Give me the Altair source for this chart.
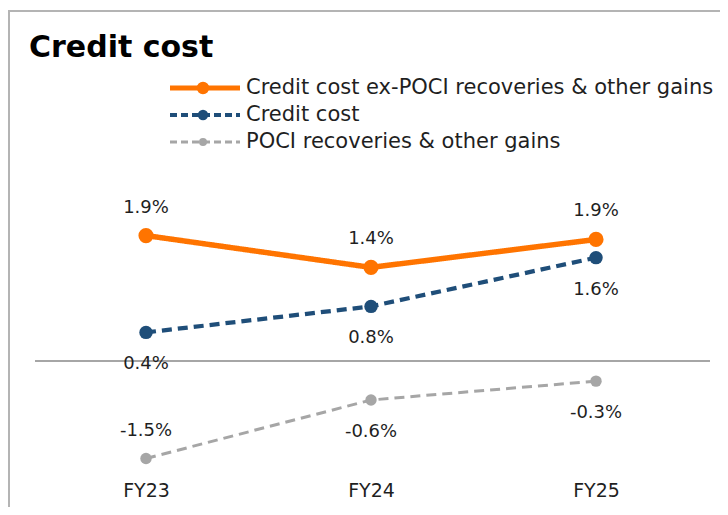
import altair as alt
import pandas as pd

# ---- data ----
title = "Credit cost"
categories = ["FY23", "FY24", "FY25"]
series_names = [
    "Credit cost ex-POCI recoveries & other gains",
    "Credit cost",
    "POCI recoveries & other gains",
]
ex_poci = [1.93, 1.44, 1.87]
credit_cost = [0.44, 0.84, 1.59]
poci = [-1.50, -0.60, -0.31]
label_pos = [
    ["above", "above", "above"],
    ["below", "below", "below"],
    ["above", "below", "below"],
]
colors = ["#ff7400", "#1f4e79", "#a6a6a6"]

FONT = "DejaVu Sans"
TXT = "#1f1f1f"

rows = []
for s, vals, pos in zip(series_names, [ex_poci, credit_cost, poci], label_pos):
    for c, v, p in zip(categories, vals, pos):
        rows.append({"series": s, "cat": c, "value": v, "pos": p,
                     "label": f"{v:.1f}%"})
df = pd.DataFrame(rows)
legend_df = pd.DataFrame({"series": series_names, "row": [0, 1, 2]})

W, H = 712, 470

xscale = alt.Scale(domain=categories, range=[138, 588], padding=0)
yscale = alt.Scale(domain=[-1.8, 2.2], range=[470, 210])
xaxis = alt.Axis(title=None, domain=False, ticks=False, grid=False, labelAngle=0,
                 labelFont=FONT, labelFontSize=19, labelColor=TXT,
                 labelPadding=3)
xenc = alt.X("cat:N", scale=xscale, axis=xaxis, sort=categories)
yenc = alt.Y("value:Q", scale=yscale, axis=None)
color = alt.Color("series:N", scale=alt.Scale(domain=series_names, range=colors), legend=None)
dash = alt.StrokeDash("series:N", scale=alt.Scale(domain=series_names,
                      range=[[1, 0], [10, 6], [10, 6]]), legend=None)
swidth = alt.StrokeWidth("series:N", scale=alt.Scale(domain=series_names,
                         range=[5.5, 3, 3]), legend=None)

base = alt.Chart(df)

lines = base.mark_line(strokeCap="butt").encode(
    x=xenc, y=yenc, color=color, strokeDash=dash, strokeWidth=swidth,
    detail="series:N")

points = base.mark_point(filled=True, opacity=1, shape="circle").encode(
    x=xenc, y=yenc, color=color,
    size=alt.Size("series:N", scale=alt.Scale(domain=series_names, range=[230, 130, 130]),
                  legend=None))

lab_above = base.transform_filter(alt.datum.pos == "above").mark_text(
    dy=-28, font=FONT, fontSize=18, color=TXT).encode(
    x=xenc, y=yenc, text="label:N")
lab_below = base.transform_filter(alt.datum.pos == "below").mark_text(
    dy=32, font=FONT, fontSize=18, color=TXT).encode(
    x=xenc, y=yenc, text="label:N")

zero = alt.Chart(pd.DataFrame({"v": [0]})).mark_rule(color="#a6a6a6", strokeWidth=2).encode(
    y=alt.Y("v:Q", scale=yscale, axis=None), x=alt.value(27), x2=alt.value(702))

one = pd.DataFrame({"t": [title]})
border_top = alt.Chart(one).mark_rule(color="#b4b4b4", strokeWidth=2).encode(
    x=alt.value(0), x2=alt.value(W), y=alt.value(3))
border_left = alt.Chart(one).mark_rule(color="#b4b4b4", strokeWidth=2).encode(
    x=alt.value(1), y=alt.value(3), y2=alt.value(H + 29))
title_txt = alt.Chart(one).mark_text(align="left", baseline="alphabetic", font=FONT,
                                     fontWeight="bold", fontSize=30, color="#000000").encode(
    text="t:N", x=alt.value(21), y=alt.value(49))

ly = alt.Y("row:Q", scale=alt.Scale(domain=[0, 2], range=[80, 134]), axis=None)
leg_lines = alt.Chart(legend_df).mark_rule(strokeCap="butt").encode(
    y=ly, x=alt.value(162), x2=alt.value(232), color=color,
    strokeDash=alt.StrokeDash("series:N", scale=alt.Scale(domain=series_names,
                              range=[[1, 0], [7, 4], [7, 4]]), legend=None),
    strokeWidth=alt.StrokeWidth("series:N", scale=alt.Scale(domain=series_names,
                                range=[5, 3, 2.5]), legend=None))
leg_pts = alt.Chart(legend_df).mark_point(filled=True, opacity=1, shape="circle").encode(
    y=ly, x=alt.value(195), color=color,
    size=alt.Size("series:N", scale=alt.Scale(domain=series_names, range=[154, 64, 64]),
                  legend=None))
leg_txt = alt.Chart(legend_df).mark_text(align="left", baseline="middle", font=FONT,
                                         fontSize=21, color=TXT).encode(
    y=ly, x=alt.value(238), text="series:N")

chart = alt.layer(
    border_top, border_left, title_txt, zero, lines, points, lab_above, lab_below,
    leg_lines, leg_pts, leg_txt
).resolve_scale(
    y="independent", strokeDash="independent", strokeWidth="independent", size="independent"
).properties(
    width=W, height=H, autosize="none", background="white",
    padding={"left": 0, "top": 0, "right": 0, "bottom": 29},
).configure_view(stroke=None)

chart.save("out.html", embed_options={"renderer": "svg", "actions": False})
